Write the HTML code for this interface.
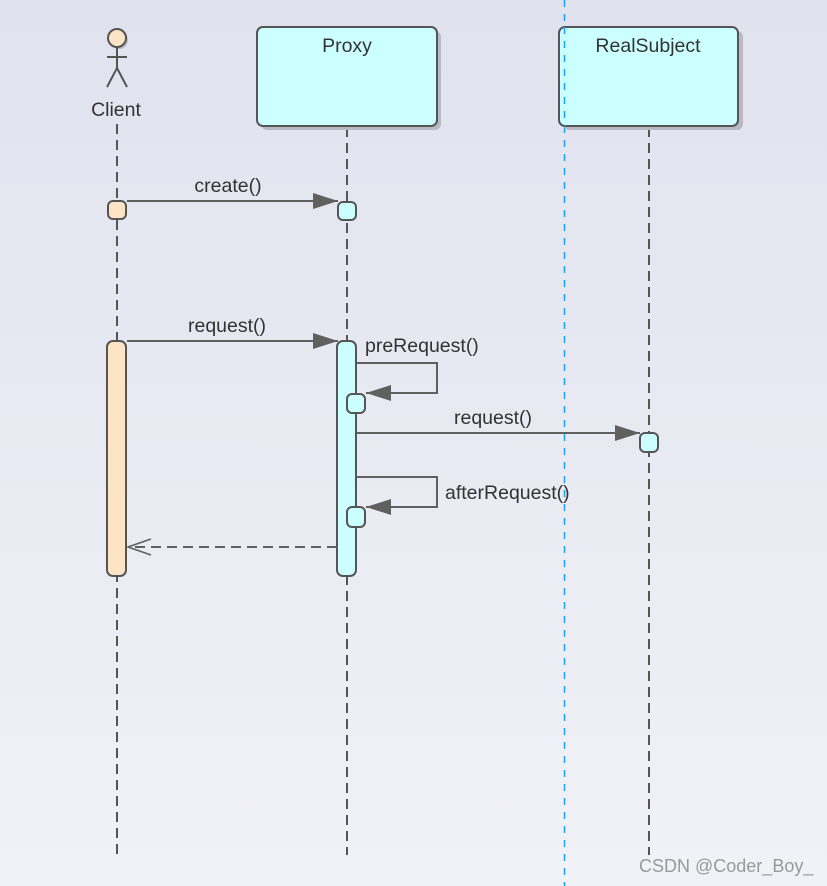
<!DOCTYPE html>
<html><head><meta charset="utf-8"><style>
html,body{margin:0;padding:0}
body{width:827px;height:886px;overflow:hidden;background:linear-gradient(#e0e2ee,#f1f2f7);}
svg{display:block}
text{font-family:"Liberation Sans",Arial,sans-serif;font-size:19.5px;fill:#333}
</style></head><body>
<svg width="827" height="886" viewBox="0 0 827 886" xmlns="http://www.w3.org/2000/svg">
<defs>
<marker id="f" markerWidth="26" markerHeight="18" refX="25" refY="9" orient="auto" markerUnits="userSpaceOnUse">
<path d="M0,1 L25,9 L0,17 Z" fill="#606060"/></marker>
</defs>
<g stroke="#555" stroke-width="2" stroke-dasharray="10,6" fill="none">
<line x1="117" y1="124" x2="117" y2="855"/>
<line x1="347" y1="127" x2="347" y2="855"/>
<line x1="649" y1="127" x2="649" y2="855"/>
</g>
<line x1="564.5" y1="0" x2="564.5" y2="886" stroke="#1aa0ff" stroke-width="1.5" stroke-dasharray="7,7"/>
<rect x="261" y="31" width="180" height="99" rx="6" fill="#b8b9c2"/>
<rect x="257" y="27" width="180" height="99" rx="6" fill="#ccffff" stroke="#555" stroke-width="2"/>
<text x="347" y="52" text-anchor="middle">Proxy</text>
<rect x="563" y="31" width="180" height="99" rx="6" fill="#b8b9c2"/>
<rect x="559" y="27" width="179" height="99" rx="6" fill="#ccffff" stroke="#555" stroke-width="2"/>
<text x="648" y="52" text-anchor="middle">RealSubject</text>
<line x1="564.5" y1="27" x2="564.5" y2="126" stroke="#1aa0ff" stroke-width="1.5" stroke-dasharray="7,7"/>
<circle cx="119" cy="40" r="9" fill="#b8b9c2"/>
<circle cx="117" cy="38" r="9" fill="#fce4c4" stroke="#555" stroke-width="2"/>
<g stroke="#555" stroke-width="2" fill="none">
<line x1="117" y1="47" x2="117" y2="68"/>
<line x1="107" y1="57" x2="127" y2="57"/>
<polyline points="107,87 117,68 127,87"/>
</g>
<text x="116" y="116" text-anchor="middle">Client</text>
<line x1="127" y1="201" x2="338" y2="201" stroke="#606060" stroke-width="2" marker-end="url(#f)"/>
<text x="228" y="192" text-anchor="middle">create()</text>
<rect x="108" y="201" width="18" height="18" rx="5" fill="#fce4c4" stroke="#555" stroke-width="2"/>
<rect x="338" y="202" width="18" height="18" rx="5" fill="#ccffff" stroke="#555" stroke-width="2"/>
<line x1="127" y1="341" x2="338" y2="341" stroke="#606060" stroke-width="2" marker-end="url(#f)"/>
<text x="227" y="332" text-anchor="middle">request()</text>
<rect x="107" y="341" width="19" height="235" rx="6" fill="#fce4c4" stroke="#555" stroke-width="2"/>
<rect x="337" y="341" width="19" height="235" rx="6" fill="#ccffff" stroke="#555" stroke-width="2"/>
<polyline points="357,363 437,363 437,393 366,393" fill="none" stroke="#606060" stroke-width="2" marker-end="url(#f)"/>
<text x="365" y="352">preRequest()</text>
<rect x="347" y="394" width="18" height="19" rx="5" fill="#ccffff" stroke="#555" stroke-width="2"/>
<line x1="357" y1="433" x2="640" y2="433" stroke="#606060" stroke-width="2" marker-end="url(#f)"/>
<text x="493" y="424" text-anchor="middle">request()</text>
<rect x="640" y="433" width="18" height="19" rx="5" fill="#ccffff" stroke="#555" stroke-width="2"/>
<polyline points="357,477 437,477 437,507 366,507" fill="none" stroke="#606060" stroke-width="2" marker-end="url(#f)"/>
<text x="445" y="499">afterRequest()</text>
<rect x="347" y="507" width="18" height="20" rx="5" fill="#ccffff" stroke="#555" stroke-width="2"/>
<line x1="337" y1="547" x2="128" y2="547" stroke="#606060" stroke-width="2" stroke-dasharray="10,6"/>
<polyline points="151,539 128,547 151,555" fill="none" stroke="#606060" stroke-width="1.5"/>
<text x="639" y="872" style="font-size:18px;fill:#999">CSDN @Coder_Boy_</text>
</svg>
</body></html>
